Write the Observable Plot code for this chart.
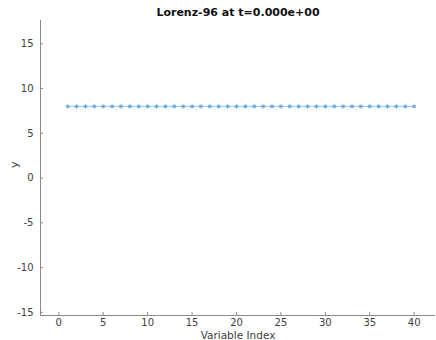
<!DOCTYPE html>
<html><head><meta charset="utf-8">
<script src="https://cdn.jsdelivr.net/npm/d3@7"></script>
<script src="https://cdn.jsdelivr.net/npm/@observablehq/plot@0.6"></script>
<style>body{margin:0;background:#fff}</style>
</head><body><div id="chart"></div>
<script>
const title = "Lorenz-96 at t=0.000e+00";
const xLabel = "Variable Index";
const yLabel = "y";
const indices = [1,2,3,4,5,6,7,8,9,10,11,12,13,14,15,16,17,18,19,20,21,22,23,24,25,26,27,28,29,30,31,32,33,34,35,36,37,38,39,40];
const values = [8,8,8,8,8,8,8,8,8,8,8,8,8,8,8,8,8,8,8,8,8,8,8,8,8,8,8,8,8,8,8,8,8,8,8,8,8,8,8,8];
const xTicks = [0,5,10,15,20,25,30,35,40];
const yTicks = [-15,-10,-5,0,5,10,15];
const xDomain = [-2.06, 42.4];
const yDomain = [-15.35, 17.6];

const data = indices.map((x, i) => ({x, y: values[i]}));
const axisColor = "#8a8a8a";
const textColor = "#404040";
const lineColor = "#4a9be0";

const chart = Plot.plot({
  width: 436, height: 340,
  marginLeft: 40, marginRight: 1, marginTop: 20, marginBottom: 25,
  style: {fontFamily: "DejaVu Sans, sans-serif", fontSize: "10px", color: textColor, background: "#fff"},
  x: {domain: xDomain},
  y: {domain: yDomain},
  marks: [
    Plot.axisX({ticks: xTicks, tickSize: 0, tickPadding: 3, label: null, fill: textColor, tickFormat: d => String(d)}),
    Plot.axisY({ticks: yTicks, tickSize: 0, tickPadding: 7, label: null, fill: textColor, tickFormat: d => String(d)}),
    Plot.tickX(xTicks, {x: d => d, insetTop: 292, stroke: axisColor}),
    Plot.tickY(yTicks, {y: d => d, insetRight: 392, stroke: axisColor}),
    Plot.ruleX([xDomain[0]], {stroke: axisColor}),
    Plot.ruleY([yDomain[0]], {stroke: axisColor}),
    Plot.line(data, {x: "x", y: "y", stroke: lineColor, strokeWidth: 1, strokeOpacity: 0.6}),
    Plot.dot(data, {x: "x", y: "y", symbol: "asterisk", r: 2, stroke: lineColor, strokeWidth: 1, strokeOpacity: 0.9}),
    Plot.text([title], {frameAnchor: "top", lineAnchor: "bottom", dy: -5, fontWeight: "bold", fontSize: 11, fill: "#111"}),
    Plot.text([xLabel], {frameAnchor: "bottom", lineAnchor: "bottom", dy: 23, fontSize: 10.5, fill: textColor}),
    Plot.text([yLabel], {frameAnchor: "left", rotate: -90, dx: -26, fontSize: 11, fill: textColor})
  ]
});
document.getElementById("chart").appendChild(chart);
</script>
</body></html>
